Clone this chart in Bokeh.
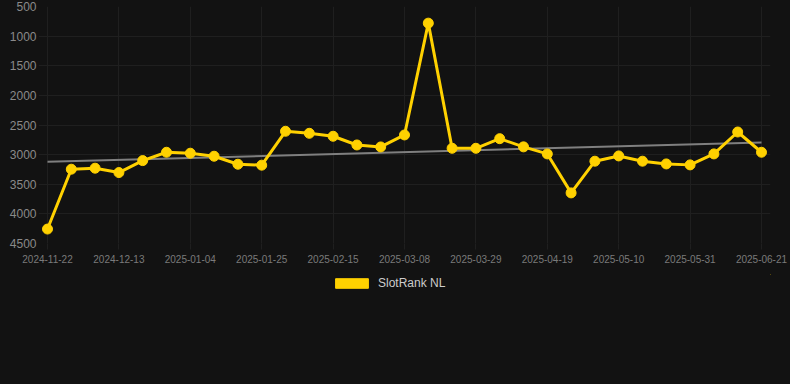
import numpy as np
from bokeh.plotting import figure
from bokeh.layouts import column
from bokeh.models import (Range1d, FixedTicker, ColumnDataSource, Legend, LegendItem)
from bokeh.embed import file_html
from bokeh.resources import INLINE

dates = ["2024-11-22", "2024-11-29", "2024-12-06", "2024-12-13", "2024-12-20", "2024-12-27",
         "2025-01-04", "2025-01-11", "2025-01-18", "2025-01-25", "2025-02-01", "2025-02-08",
         "2025-02-15", "2025-02-22", "2025-03-01", "2025-03-08", "2025-03-15", "2025-03-22",
         "2025-03-29", "2025-04-05", "2025-04-12", "2025-04-19", "2025-04-26", "2025-05-03",
         "2025-05-10", "2025-05-17", "2025-05-24", "2025-05-31", "2025-06-07", "2025-06-14",
         "2025-06-21"]
ranks = [4256, 3246, 3229, 3303, 3101, 2960, 2976, 3027, 3162, 3178, 2606, 2640, 2690,
         2837, 2870, 2668, 781, 2893, 2893, 2731, 2869, 2988, 3646, 3111, 3022, 3111,
         3157, 3173, 2988, 2618, 2960]
y_ticks = [500, 1000, 1500, 2000, 2500, 3000, 3500, 4000, 4500]
series_name = "SlotRank NL"

BG = "#121212"
GRID = "#1f1f1f"
YELLOW = "#FFD100"
FONT = "Liberation Sans"

idx = list(range(len(dates)))
x_tick_idx = idx[::3]
n_last = len(dates) - 1

# a little room beyond the first/last point so the markers are not clipped
PX_PER_STEP = 714 / n_last
PAD_PX = 9
pad = PAD_PX / PX_PER_STEP

p = figure(width=790, height=274, output_backend="svg", toolbar_location=None,
           x_range=Range1d(-pad, n_last + pad), y_range=Range1d(4500, 500),
           min_border_left=47 - PAD_PX, min_border_right=29 - PAD_PX,
           min_border_top=6, min_border_bottom=31)
p.background_fill_color = None
p.border_fill_color = None
p.outline_line_color = None

p.xgrid.grid_line_color = GRID
p.ygrid.grid_line_color = GRID
p.ygrid.bounds = (-pad, n_last)
p.xaxis.ticker = FixedTicker(ticks=x_tick_idx)
p.xaxis.major_label_overrides = {i: dates[i] for i in x_tick_idx}
p.yaxis.ticker = FixedTicker(ticks=y_ticks)
for ax in (p.xaxis[0], p.yaxis[0]):
    ax.axis_line_color = None
    ax.major_tick_line_color = GRID
    ax.major_tick_in = 0
    ax.minor_tick_line_color = None
    ax.major_label_text_font = FONT
    ax.major_label_text_color = "#8a8a8a"
p.yaxis.major_tick_out = 0
p.yaxis.major_label_text_font_size = "12px"
p.yaxis.major_label_standoff = 2
p.xaxis.major_tick_out = 6
p.xaxis.major_label_text_font_size = "10px"
p.xaxis.major_label_text_color = "#7a7a7a"
p.xaxis.major_label_standoff = 5

# trend line (least squares)
coef = np.polyfit(idx, ranks, 1)
trend = [coef[1] + coef[0] * idx[0], coef[1] + coef[0] * idx[-1]]
p.line([idx[0], idx[-1]], trend, line_color="#7f7f7f", line_width=2)

src = ColumnDataSource(dict(x=idx, y=ranks))
p.line("x", "y", source=src, line_color=YELLOW, line_width=3)
p.scatter("x", "y", source=src, size=10, fill_color=YELLOW, line_color=YELLOW)

# legend strip below the chart
lf = figure(width=790, height=110, output_backend="svg", toolbar_location=None,
            x_range=Range1d(0, 1), y_range=Range1d(0, 1),
            min_border=0, x_axis_type=None, y_axis_type=None)
lf.background_fill_color = None
lf.border_fill_color = None
lf.outline_line_color = None
lf.xgrid.visible = False
lf.ygrid.visible = False
swatch = lf.vbar(x=[5], top=[5], bottom=[4], width=1, fill_color=YELLOW, line_color=YELLOW)
legend = Legend(items=[LegendItem(label=series_name, renderers=[swatch])],
                location=(284 + PAD_PX, 94), orientation="horizontal",
                glyph_width=41, glyph_height=12, label_standoff=6,
                padding=0, margin=0, spacing=0,
                background_fill_alpha=0, border_line_color=None,
                label_text_font=FONT, label_text_font_size="12px",
                label_text_color="#cccccc", label_height=12)
lf.add_layout(legend, "center")

html = file_html(column(p, lf, spacing=0), INLINE)
css = "<style>html,body{margin:0;padding:0;background:#121212 !important;overflow:hidden;}</style>"
html = html.replace("</head>", css + "</head>", 1)
open("out.html", "w").write(html)
